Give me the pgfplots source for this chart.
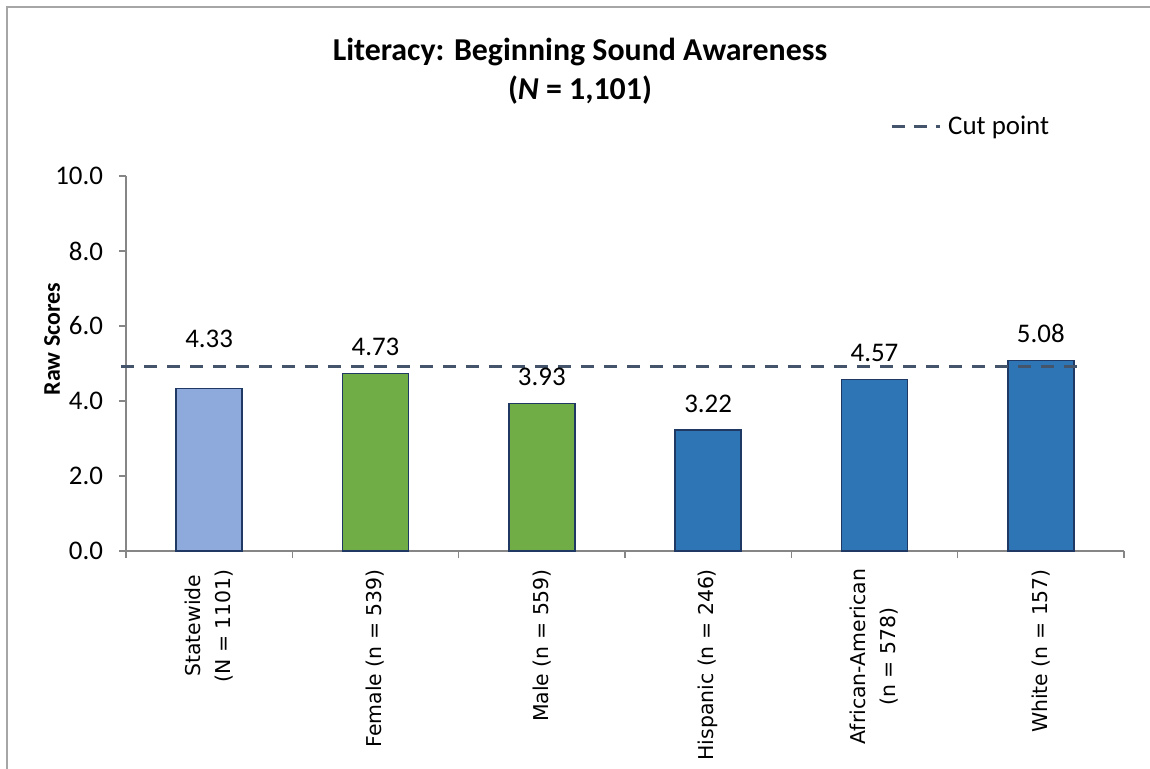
\documentclass[border=0pt]{standalone}
\usepackage{fontspec}
\setmainfont{Carlito}
\newfontfamily\dejavu{DejaVu Sans}
\usepackage{pgfplots}
\pgfplotsset{compat=1.18}

\definecolor{lightbar}{HTML}{8EAADC}
\definecolor{greenbar}{HTML}{70AD47}
\definecolor{bluebar}{HTML}{2E75B6}
\definecolor{baredge}{HTML}{203864}
\definecolor{cutline}{HTML}{44546A}
\definecolor{axisgray}{HTML}{868686}
\definecolor{framegray}{HTML}{A6A6A6}

\begin{document}
\begin{tikzpicture}
% page extent and the chart frame
\useasboundingbox (0,0) rectangle (575bp,384.5bp);
\draw[framegray, line width=1.2bp] (3.5bp,0) -- (3.5bp,381bp) -- (575bp,381bp);

% title
\node[align=center, font=\fontsize{16}{19.5}\selectfont\bfseries] at (290bp,349bp)
  {Literacy: Beginning Sound Awareness\\(\textit{N} = 1,101)};

\begin{axis}[
  at={(63bp,109bp)}, anchor=south west,
  scale only axis, width=499bp, height=187.5bp,
  xmin=-0.5, xmax=5.5, ymin=0, ymax=10,
  axis x line=bottom, axis y line=left,
  axis line style={draw=axisgray, line width=0.8bp, -},
  ybar, bar shift=0pt, bar width=33bp,
  xtick={0,...,5},
  xticklabels={{Statewide\\(N = 1101)},{Female (n = 539)},{Male (n = 559)},{Hispanic (n = 246)},{African-American\\(n = 578)},{White (n = 157)}},
  major x tick style={draw=none},
  minor xtick={-0.5,0.5,...,5.5},
  minor x tick style={draw=axisgray, line width=0.8bp},
  minor tick length=3.5bp,
  ytick={0,2,...,10},
  y tick style={draw=axisgray, line width=0.8bp},
  major tick length=3.5bp,
  tick align=outside,
  xticklabel style={rotate=90, anchor=east, align=center,
    font=\dejavu\fontsize{10.25}{15}\selectfont, xshift=-2bp},
  yticklabel style={font=\fontsize{13.5}{16}\selectfont, xshift=-4.5bp},
  yticklabel={\pgfmathprintnumber[fixed,precision=1,zerofill,assume math mode=true]{\tick}},
  ylabel={\textbf{Raw Scores}},
  ylabel style={font=\fontsize{12}{14}\selectfont, at={(axis description cs:-0.074,0.565)}, anchor=center, rotate=0},
  nodes near coords={\pgfmathprintnumber[fixed,precision=2,zerofill,assume math mode=true]{\pgfplotspointmeta}},
  nodes near coords style={font=\fontsize{13.5}{16}\selectfont, black, anchor=south, yshift=5bp},
  legend style={draw=none, fill=none, at={(axis description cs:0.925,1.131)}, anchor=east,
    font=\fontsize{13.5}{16}\selectfont, inner sep=0pt, outer sep=0pt,
    nodes={inner sep=0pt, outer sep=0pt}},
  legend image code/.code={\draw[#1, line width=1.5bp, dash pattern=on 6.5bp off 4.5bp] (0bp,0bp) -- (24bp,0bp);},
  legend cell align=left,
  clip=false,
]
\addplot[fill=lightbar, draw=baredge, line width=0.8bp, forget plot,
  nodes near coords style={yshift=11.5bp}] coordinates {(0,4.33)};
\addplot[fill=greenbar, draw=baredge, line width=0.8bp, forget plot] coordinates {(1,4.73) (2,3.93)};
\addplot[fill=bluebar, draw=baredge, line width=0.8bp, forget plot] coordinates {(3,3.22) (4,4.57) (5,5.08)};
% cut point reference line
\addplot[sharp plot, cutline, line width=1.5bp, dash pattern=on 6.5bp off 5bp, nodes near coords={}, mark=none]
  coordinates {(-0.53,4.93) (5.27,4.93)};
\addlegendentry{\hspace{3.5bp}Cut point}
\end{axis}
\end{tikzpicture}
\end{document}
